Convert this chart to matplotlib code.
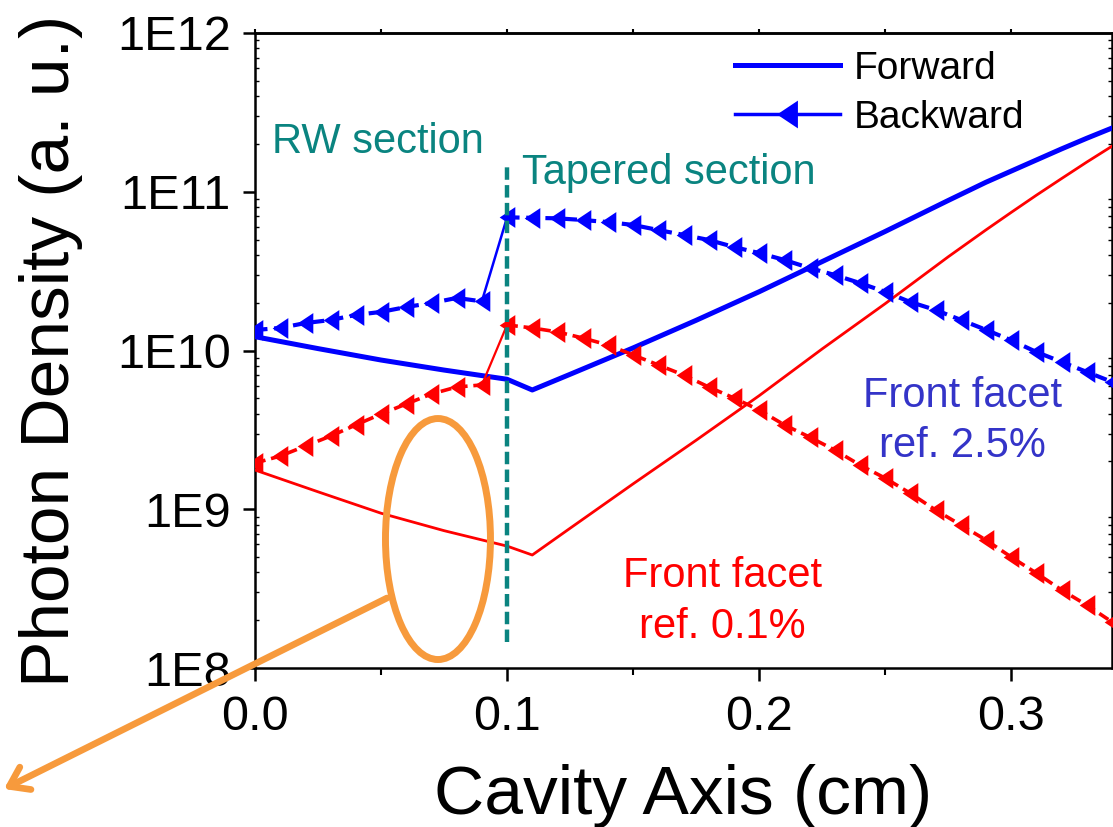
import numpy as np
import matplotlib
matplotlib.use("Agg")
import matplotlib.pyplot as plt
from matplotlib.patches import Ellipse, FancyArrowPatch
from matplotlib.lines import Line2D
from matplotlib.ticker import FixedLocator, FixedFormatter, LogLocator, NullFormatter, MultipleLocator

plt.rcParams['font.family'] = ['Liberation Sans', 'DejaVu Sans']

# ---------------- data ----------------
# forward photon density along the cavity (cm)
x_fwd = [0.0, 0.025, 0.05, 0.075, 0.10, 0.11, 0.125, 0.15, 0.175, 0.20,
         0.225, 0.25, 0.275, 0.29, 0.30, 0.31, 0.32, 0.33, 0.34]
fwd_25 = [1.222e10, 1.028e10, 8.71e9, 7.53e9, 6.59e9, 5.64e9, 7.08e9, 1.038e10,
          1.549e10, 2.344e10, 3.63e10, 5.62e10, 8.81e10, 1.148e11, 1.349e11,
          1.585e11, 1.862e11, 2.173e11, 2.52e11]
fwd_01 = [1.766e9, 1.288e9, 9.44e8, 7.33e8, 5.86e8, 5.15e8, 7.59e8, 1.445e9,
          2.72e9, 5.19e9, 1.023e10, 1.972e10, 3.89e10, 5.75e10, 7.41e10,
          9.51e10, 1.211e11, 1.538e11, 1.936e11]

# backward photon density, ridge-waveguide (RW) section
x_rw = [0.0, 0.01, 0.02, 0.03, 0.04, 0.05, 0.06, 0.07, 0.08, 0.09]
bwd_rw_25 = [1.346e10, 1.387e10, 1.489e10, 1.556e10, 1.675e10, 1.750e10,
             1.879e10, 1.991e10, 2.143e10, 2.04e10]
bwd_rw_01 = [1.954e9, 2.163e9, 2.500e9, 2.891e9, 3.396e9, 3.981e9,
             4.603e9, 5.321e9, 5.888e9, 6.067e9]

# backward photon density, tapered section
x_tp = [0.10, 0.11, 0.12, 0.13, 0.14, 0.15, 0.16, 0.17, 0.18, 0.19, 0.20, 0.21,
        0.22, 0.23, 0.24, 0.25, 0.26, 0.27, 0.28, 0.29, 0.30, 0.31, 0.32, 0.33, 0.34]
bwd_tp_25 = [6.90e10, 6.85e10, 6.80e10, 6.64e10, 6.44e10, 6.18e10, 5.74e10, 5.35e10,
             4.97e10, 4.49e10, 4.11e10, 3.72e10, 3.31e10, 2.99e10, 2.66e10, 2.34e10,
             2.02e10, 1.80e10, 1.56e10, 1.35e10, 1.16e10, 9.79e9, 8.47e9, 7.33e9, 6.34e9]
bwd_tp_01 = [1.449e10, 1.387e10, 1.309e10, 1.199e10, 1.084e10, 9.38e9, 8.11e9, 7.01e9,
             5.89e9, 5.02e9, 4.22e9, 3.40e9, 2.85e9, 2.36e9, 1.90e9, 1.57e9,
             1.26e9, 9.89e8, 7.96e8, 6.40e8, 5.00e8, 3.96e8, 3.10e8, 2.49e8, 1.95e8]

# RW / taper boundary
boundary_x = 0.10
boundary_span = [1.46e8, 1.52e11]

xticks = [0.0, 0.1, 0.2, 0.3]
xtick_labels = ["0.0", "0.1", "0.2", "0.3"]
yticks = [1e8, 1e9, 1e10, 1e11, 1e12]
ytick_labels = ["1E8", "1E9", "1E10", "1E11", "1E12"]

BLUE = '#0000ff'
RED = '#ff0000'
TEAL = '#0a8480'
NOTE_BLUE = '#3434c8'
ORANGE = '#f79a3c'

# left-pointing triangle, taller than wide
tri_left = [(-0.75, 0.0), (0.75, 1.0), (0.75, -1.0), (-0.75, 0.0)]

W, H = 1113, 827
fig = plt.figure(figsize=(W / 100, H / 100), dpi=100)
ax = fig.add_axes([255 / W, 1 - 668 / H, 857 / W, 635 / H])
ax.set_yscale('log')

# forward waves
ax.plot(x_fwd, fwd_25, color=BLUE, lw=3.6, zorder=3)
ax.plot(x_fwd, fwd_01, color=RED, lw=2.0, zorder=3)

# backward waves (dashed with markers), plus the jump at the section boundary
for xs, ys, c, lw in [(x_rw, bwd_rw_25, BLUE, 3.0), (x_tp, bwd_tp_25, BLUE, 3.0),
                      (x_rw, bwd_rw_01, RED, 2.6), (x_tp, bwd_tp_01, RED, 2.6)]:
    ax.plot(xs, ys, color=c, lw=lw, ls=(0, (3.0, 1.6)), marker=tri_left,
            ms=15, mew=0, zorder=4)
ax.plot([x_rw[-1], x_tp[0]], [bwd_rw_25[-1], bwd_tp_25[0]], color=BLUE, lw=1.8, zorder=4)
ax.plot([x_rw[-1], x_tp[0]], [bwd_rw_01[-1], bwd_tp_01[0]], color=RED, lw=1.6, zorder=4)

# section boundary
ax.plot([boundary_x, boundary_x], boundary_span, color=TEAL, lw=3.2,
        ls=(0, (2.8, 1.2)), zorder=5)

ax.set_xlim(0, 0.34)
ax.set_ylim(1e8, 1e12)

ax.xaxis.set_major_locator(FixedLocator(xticks))
ax.xaxis.set_major_formatter(FixedFormatter(xtick_labels))
ax.xaxis.set_minor_locator(MultipleLocator(0.05))
ax.yaxis.set_major_locator(FixedLocator(yticks))
ax.yaxis.set_major_formatter(FixedFormatter(ytick_labels))
ax.yaxis.set_minor_locator(LogLocator(base=10, subs=np.arange(2, 10)))
ax.yaxis.set_minor_formatter(NullFormatter())

ax.tick_params(axis='x', which='major', direction='out', length=9.4, width=1.8,
               labelsize=35, pad=10, top=False)
ax.tick_params(axis='x', which='minor', direction='out', length=5, width=1.5, top=False)
ax.tick_params(axis='y', which='major', direction='out', length=9, width=1.8,
               labelsize=35, pad=8.5, right=False)
ax.tick_params(axis='y', which='minor', direction='in', length=3, width=1.0,
               left=True, right=True)
for s in ax.spines.values():
    s.set_linewidth(1.8)

top = ax.secondary_xaxis('top')
top.xaxis.set_major_locator(MultipleLocator(0.05))
top.tick_params(direction='out', length=3, width=1.5, labeltop=False)
top.spines['top'].set_linewidth(1.8)

ax.set_xlabel('Cavity Axis (cm)', fontsize=50, labelpad=17)
ax.set_ylabel('Photon Density (a. u.)', fontsize=50, labelpad=24)

# legend
handles = [Line2D([], [], color=BLUE, lw=3.6),
           Line2D([], [], color=BLUE, lw=2.5, marker=tri_left, ms=20, mew=0)]
ax.legend(handles, ['Forward', 'Backward'], loc='upper left',
          bbox_to_anchor=(0.56, 0.972), frameon=False, fontsize=28,
          handlelength=2.7, handletextpad=0.35, labelspacing=0.33,
          borderpad=0, borderaxespad=0)

# annotations
ax.text(0.0198, 0.811, 'RW section', transform=ax.transAxes, fontsize=30,
        color=TEAL, va='baseline', ha='left')
ax.text(0.3116, 0.762, 'Tapered section', transform=ax.transAxes, fontsize=30,
        color=TEAL, va='baseline', ha='left')
ax.text(0.825, 0.411, 'Front facet', transform=ax.transAxes, fontsize=30,
        color=NOTE_BLUE, va='baseline', ha='center')
ax.text(0.825, 0.332, 'ref. 2.5%', transform=ax.transAxes, fontsize=30,
        color=NOTE_BLUE, va='baseline', ha='center')
ax.text(0.545, 0.1276, 'Front facet', transform=ax.transAxes, fontsize=30,
        color=RED, va='baseline', ha='center')
ax.text(0.545, 0.047, 'ref. 0.1%', transform=ax.transAxes, fontsize=30,
        color=RED, va='baseline', ha='center')

ax.add_patch(Ellipse((0.2135, 0.2031), 0.1225, 0.3795, transform=ax.transAxes,
                     fill=False, ec=ORANGE, lw=5, clip_on=False, zorder=6))
arrow = FancyArrowPatch((387 / W, 1 - 598 / H), (4 / W, 1 - 789 / H),
                        transform=fig.transFigure,
                        arrowstyle='->,head_length=0.65,head_width=0.45',
                        mutation_scale=20, lw=4.8, color=ORANGE,
                        shrinkA=0, shrinkB=0, zorder=10)
fig.add_artist(arrow)

fig.savefig('out.png', dpi=100)
